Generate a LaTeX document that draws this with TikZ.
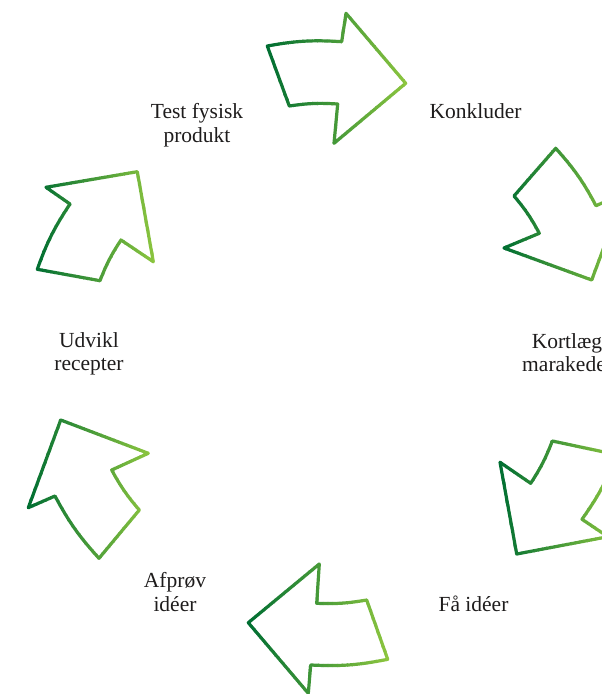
\documentclass[tikz,border=0pt]{standalone}
\usepackage{fontspec}
\setmainfont{Liberation Serif}
\definecolor{gDark}{RGB}{0,110,50}
\definecolor{gLight}{RGB}{141,198,63}
\definecolor{txt}{RGB}{30,28,28}
\tikzset{
  arrowline/.style={line width=3.2pt, line join=round},
  lbl/.style={font=\fontsize{21.5}{23.5}\selectfont, text=txt, inner sep=0pt, align=center}
}
% #1 xmin, #2 xmax, #3 tail outer, #4 notch outer, #5 barb outer, #6 tip,
% #7 barb inner, #8 notch inner, #9 tail inner
\newcommand\gradarrow[9]{%
  \pgfmathsetmacro\gaw{(#2-#1)/30}%
  \foreach \i in {0,...,29}{%
    \pgfmathsetmacro\gaxa{#1+\i*\gaw}%
    \pgfmathsetmacro\gaxb{\gaxa+\gaw+0.6}%
    \pgfmathtruncatemacro\gap{100*\i/29}%
    \begin{scope}
      \clip (\gaxa,-700) rectangle (\gaxb,10);
      \draw[arrowline, color=gLight!\gap!gDark]
        (#3) to[bend left=7] (#4) -- (#5) -- (#6) -- (#7) -- (#8)
        to[bend right=6] (#9) -- cycle;
    \end{scope}
  }%
}
\begin{document}
\begin{tikzpicture}[x=1pt,y=1pt]
\useasboundingbox (0,0) rectangle (602,-694);
% arrow 1 (top, pointing right)
\gradarrow{264}{409}{267.3,-46}{341.7,-41.7}{346,-13.3}{405.7,-83.3}{334,-143.3}{337.7,-104}{289.3,-106}
% arrow 2 (right top, pointing down)
\gradarrow{501}{627}{555.7,-148.3}{596,-205.7}{624,-193.3}{591.7,-280}{504,-248}{539.3,-233.3}{514,-196}
% arrow 3 (right bottom, pointing down-left)
\gradarrow{497}{620}{616.7,-454.7}{582,-519.3}{608,-536.7}{516.7,-554}{500,-462.3}{530.7,-483.3}{552.3,-441}
% arrow 4 (bottom, pointing left)
\gradarrow{245}{391}{387.7,-659.3}{310.7,-665}{308.3,-693.3}{248.3,-622.7}{319.3,-564}{316.7,-603.3}{366.7,-600}
% arrow 5 (left bottom, pointing up)
\gradarrow{25}{152}{99,-558.3}{55,-496}{28.3,-507.7}{60.7,-420}{148.3,-453.3}{111.7,-470}{139.3,-510}
% arrow 6 (left top, pointing up-right)
\gradarrow{34}{157}{37.3,-269.3}{70,-204}{46,-187.3}{137.3,-171.7}{153.3,-261.7}{121,-240}{100,-280.7}

\node[lbl, anchor=north] (test) at (197,-103.5) {Test fysisk\\produkt};
\node[lbl, anchor=base] (konk) at (475.5,-118) {Konkluder};
\node[lbl, anchor=north] (kort) at (567,-333) {Kortlæg\\marakedet};
\node[lbl, anchor=base] (faa) at (473.5,-611) {Få idéer};
\node[lbl, anchor=north] (afpr) at (175,-572.5) {Afprøv\\idéer};
\node[lbl, anchor=north] (udv) at (89,-332) {Udvikl\\recepter};
\end{tikzpicture}
\end{document}
